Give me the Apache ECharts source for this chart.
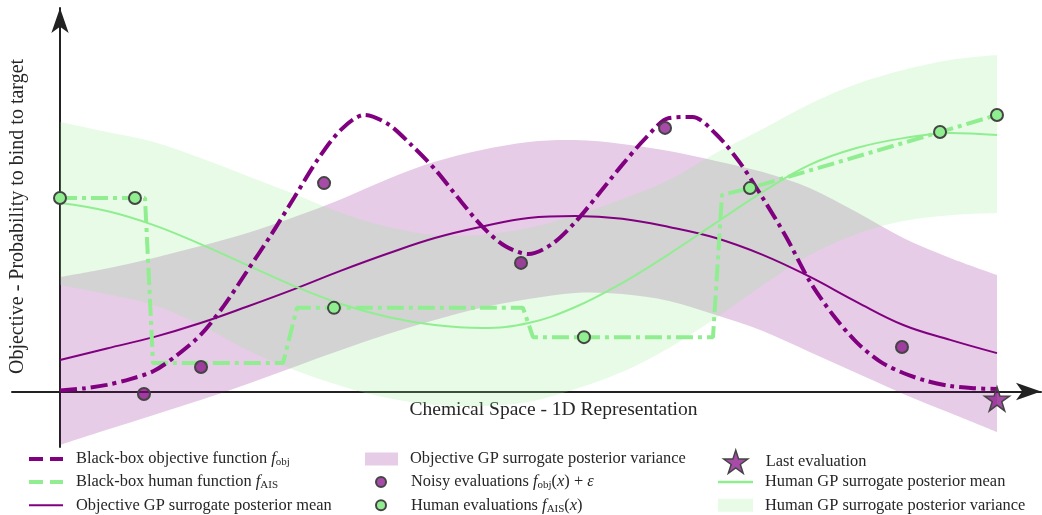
<!DOCTYPE html>
<html><head><meta charset="utf-8">
<script src="https://cdn.jsdelivr.net/npm/echarts@6/dist/echarts.min.js"></script>
<style>html,body{margin:0;padding:0;background:#fff}#c{width:1042px;height:515px}</style>
</head><body><div id="c"></div>
<script>
// ---- data (x: chemical space 0..10, y: objective) ----
const xGrid = [0,0.5,1,1.5,2,2.5,3,3.5,4,4.5,5,5.5,6,6.5,7,7.5,8,8.5,9,9.5,10];
const xFine = [0,0.25,0.5,0.75,1,1.25,1.5,1.75,2,2.25,2.5,2.75,3,3.25,3.5,3.75,4,4.25,4.5,4.75,5,5.25,5.5,5.75,6,6.25,6.5,6.75,7,7.25,7.5,7.75,8,8.25,8.5,8.75,9,9.25,9.5,9.75,10];
const fObj = [0.004,0.011,0.024,0.045,0.074,0.132,0.205,0.311,0.438,0.566,0.703,0.840,0.949,1.002,0.969,0.893,0.806,0.701,0.600,0.527,0.498,0.534,0.614,0.716,0.821,0.918,0.991,0.995,0.933,0.832,0.701,0.560,0.400,0.277,0.179,0.109,0.067,0.038,0.020,0.012,0.009];
const objMean  = [0.114,0.156,0.197,0.248,0.308,0.371,0.438,0.500,0.556,0.597,0.629,0.636,0.626,0.596,0.556,0.495,0.416,0.325,0.241,0.187,0.139];
const objUpper = [0.415,0.446,0.484,0.527,0.574,0.632,0.697,0.770,0.832,0.875,0.904,0.911,0.897,0.871,0.835,0.795,0.737,0.650,0.556,0.484,0.422];
const objLower = [-0.194,-0.139,-0.085,-0.031,0.027,0.089,0.150,0.208,0.259,0.303,0.335,0.357,0.353,0.328,0.277,0.219,0.143,0.067,-0.009,-0.078,-0.147];
const humMean  = [0.683,0.654,0.603,0.534,0.458,0.382,0.317,0.270,0.241,0.230,0.248,0.306,0.393,0.498,0.611,0.723,0.821,0.882,0.918,0.937,0.929];
const humUpper = [0.976,0.940,0.904,0.846,0.781,0.716,0.647,0.596,0.567,0.567,0.592,0.639,0.697,0.766,0.864,0.951,1.042,1.114,1.165,1.201,1.219];
const humLower = [0.386,0.353,0.313,0.241,0.150,0.078,0.020,-0.024,-0.049,-0.053,-0.038,0.009,0.071,0.158,0.266,0.386,0.495,0.571,0.618,0.639,0.647];
const fAisX = [0,0.907,0.993,2.380,2.529,4.941,5.048,6.969,7.065,7.364,9.392,10];
const fAisY = [0.701,0.701,0.103,0.103,0.303,0.303,0.197,0.197,0.712,0.737,0.940,1.002];
const noisyX = [0.896,1.505,2.818,4.920,6.457,8.986];
const noisyY = [-0.009,0.089,0.755,0.466,0.955,0.161];
const humanX = [0,0.800,2.924,5.592,7.364,9.392,10];
const humanY = [0.701,0.701,0.303,0.197,0.737,0.940,1.002];
const lastX = [10];
const lastY = [-0.027];
const xAxisTitle = 'Chemical Space - 1D Representation';
const yAxisTitle = 'Objective - Probability to bind to target';

// ---- helpers ----
const zip = (xs, ys) => xs.map((x, i) => [x, ys[i]]);
const PURPLE = '#800080', GREEN = '#90ee90';
const OBJ_FILL = 'rgba(128,0,128,0.2)', HUM_FILL = 'rgba(144,238,144,0.22)';
const SERIF = '"Liberation Serif", "DejaVu Serif", serif';
const STAR = 'path://M100,0L122.45,69.1L195.1,69.1L136.3,111.8L158.8,180.9L100,138.2L41.2,180.9L63.7,111.8L4.9,69.1L77.55,69.1Z';
const DASH_ICON = 'path://M0,0h14v4h-14zM21,0h13v4h-13z';

// Catmull-Rom -> cubic bezier path through pixel points (rendering only)
function curve(p) {
  let s = '';
  for (let i = 0; i < p.length - 1; i++) {
    const p0 = p[i - 1] || p[i], p1 = p[i], p2 = p[i + 1], p3 = p[i + 2] || p[i + 1];
    const c1 = [p1[0] + (p2[0] - p0[0]) / 6, p1[1] + (p2[1] - p0[1]) / 6];
    const c2 = [p2[0] - (p3[0] - p1[0]) / 6, p2[1] - (p3[1] - p1[1]) / 6];
    s += 'C' + c1.join(',') + ' ' + c2.join(',') + ' ' + p2.join(',');
  }
  return s;
}
function bandSeries(name, upper, lower, color, z) {
  return {
    name: name, type: 'custom', coordinateSystem: 'cartesian2d', silent: true, z: z,
    data: [[xGrid[0], upper[0]]], itemStyle: {color: color},
    renderItem: function (params, api) {
      const up = xGrid.map((x, i) => api.coord([x, upper[i]]));
      const lo = xGrid.map((x, i) => api.coord([x, lower[i]])).reverse();
      const d = 'M' + up[0].join(',') + curve(up) + 'L' + lo[0].join(',') + curve(lo) + 'Z';
      return {type: 'path', shape: {pathData: d}, style: {fill: color, stroke: null}};
    }
  };
}

const FS = 16.4;
const rich = {
  t: {fontFamily: SERIF, fontSize: FS, lineHeight: 18, color: '#262626', verticalAlign: 'middle'},
  i: {fontFamily: SERIF, fontStyle: 'italic', fontSize: FS, lineHeight: 18, color: '#262626', verticalAlign: 'middle'},
  s: {fontFamily: SERIF, fontSize: 11, lineHeight: 8, color: '#262626', verticalAlign: 'bottom'}
};
const labels = {
  'Black-box objective function': '{t|Black-box objective function }{i|f}{s|obj}',
  'Black-box human function': '{t|Black-box human function }{i|f}{s|AIS}',
  'Objective GP surrogate posterior mean': '{t|Objective GP surrogate posterior mean}',
  'Objective GP surrogate posterior variance': '{t|Objective GP surrogate posterior variance}',
  'Noisy evaluations': '{t|Noisy evaluations }{i|f}{s|obj}{t|(}{i|x}{t|) + }{i|ε}',
  'Human evaluations': '{t|Human evaluations }{i|f}{s|AIS}{t|(}{i|x}{t|)}',
  'Last evaluation': '{t|Last evaluation}',
  'Human GP surrogate posterior mean': '{t|Human GP surrogate posterior mean}',
  'Human GP surrogate posterior variance': '{t|Human GP surrogate posterior variance}'
};
function mkLegend(name, left, top, w, h, icon, itemStyle, pad) {
  return {
    show: true, left: left, top: top, orient: 'vertical', padding: 0, itemGap: 0,
    itemWidth: w, itemHeight: h, selectedMode: false, symbolKeepAspect: false,
    data: [{name: name, icon: icon, itemStyle: Object.assign({borderWidth: 0, opacity: 1}, itemStyle)}],
    formatter: n => labels[n],
    textStyle: {rich: rich, padding: [0, 0, 0, pad], fontFamily: SERIF, fontSize: FS, color: '#262626'}
  };
}

const chart = echarts.init(document.getElementById('c'), null, {renderer: 'canvas'});
const axisLine = {onZero: true, symbol: ['none', 'arrow'], symbolSize: [13, 25], lineStyle: {color: '#222', width: 2}};
chart.setOption({
  animation: false,
  backgroundColor: '#fff',
  grid: {left: 12, right: 1, top: 8, bottom: 68, containLabel: false},
  xAxis: {type: 'value', min: -0.5123, max: 10.4696, axisLine: axisLine,
    axisTick: {show: false}, axisLabel: {show: false}, splitLine: {show: false}},
  yAxis: {type: 'value', min: -0.2011, max: 1.3895, axisLine: axisLine,
    axisTick: {show: false}, axisLabel: {show: false}, splitLine: {show: false}},
  legend: [
    mkLegend('Black-box objective function', 29, 451, 34, 4, DASH_ICON, {color: PURPLE}, 8),
    mkLegend('Black-box human function', 29, 474, 34, 4, DASH_ICON, {color: GREEN}, 8),
    mkLegend('Objective GP surrogate posterior mean', 29, 497.3, 34, 2, 'rect', {color: PURPLE}, 8),
    mkLegend('Objective GP surrogate posterior variance', 365, 451, 33, 13, 'rect', {color: OBJ_FILL}, 7),
    mkLegend('Noisy evaluations', 375, 474, 10, 10, 'circle', {color: 'rgba(128,0,128,0.7)', borderColor: '#444', borderWidth: 2}, 20),
    mkLegend('Human evaluations', 375, 497.3, 10, 10, 'circle', {color: GREEN, borderColor: '#444', borderWidth: 2}, 20),
    mkLegend('Last evaluation', 723, 449.5, 24, 23, STAR, {color: 'rgba(128,0,128,0.7)', borderColor: '#444', borderWidth: 1.5}, 13),
    mkLegend('Human GP surrogate posterior mean', 718, 474, 35, 2.5, 'rect', {color: GREEN}, 7),
    mkLegend('Human GP surrogate posterior variance', 718, 497.3, 35, 13, 'rect', {color: HUM_FILL}, 7)
  ],
  graphic: [
    {type: 'text', x: 553.5, y: 410, silent: true,
      style: {text: xAxisTitle, font: '19.5px ' + SERIF, fill: '#262626', align: 'center', verticalAlign: 'middle'}},
    {type: 'text', x: 18, y: 216.5, rotation: Math.PI / 2, silent: true,
      style: {text: yAxisTitle, font: '20px ' + SERIF, fill: '#262626', align: 'center', verticalAlign: 'middle'}}
  ],
  series: [
    bandSeries('Objective GP surrogate posterior variance', objUpper, objLower, OBJ_FILL, 1),
    bandSeries('Human GP surrogate posterior variance', humUpper, humLower, HUM_FILL, 2),
    {name: 'Objective GP surrogate posterior mean', type: 'line', data: zip(xGrid, objMean), smooth: 0.4,
      symbol: 'none', itemStyle: {color: PURPLE}, lineStyle: {color: PURPLE, width: 2}, z: 3},
    {name: 'Human GP surrogate posterior mean', type: 'line', data: zip(xGrid, humMean), smooth: 0.4,
      symbol: 'none', itemStyle: {color: GREEN}, lineStyle: {color: GREEN, width: 2}, z: 3},
    {name: 'Black-box human function', type: 'line', data: zip(fAisX, fAisY), smooth: false,
      symbol: 'none', itemStyle: {color: GREEN}, lineStyle: {color: GREEN, width: 4, type: [17, 5, 4, 5]}, z: 4},
    {name: 'Black-box objective function', type: 'line', data: zip(xFine, fObj), smooth: 0.3,
      symbol: 'none', itemStyle: {color: PURPLE}, lineStyle: {color: PURPLE, width: 4, type: [17, 5, 4, 5]}, z: 5},
    {name: 'Noisy evaluations', type: 'scatter', data: zip(noisyX, noisyY), symbol: 'circle', symbolSize: 12,
      itemStyle: {color: 'rgba(128,0,128,0.7)', borderColor: '#444', borderWidth: 2, opacity: 1}, z: 6},
    {name: 'Human evaluations', type: 'scatter', data: zip(humanX, humanY), symbol: 'circle', symbolSize: 12,
      itemStyle: {color: GREEN, borderColor: '#444', borderWidth: 2, opacity: 1}, z: 6},
    {name: 'Last evaluation', type: 'scatter', data: zip(lastX, lastY), symbol: STAR, symbolSize: [25, 24],
      itemStyle: {color: 'rgba(128,0,128,0.7)', borderColor: '#444', borderWidth: 1.5, opacity: 1}, z: 7}
  ]
});
</script>
</body></html>
